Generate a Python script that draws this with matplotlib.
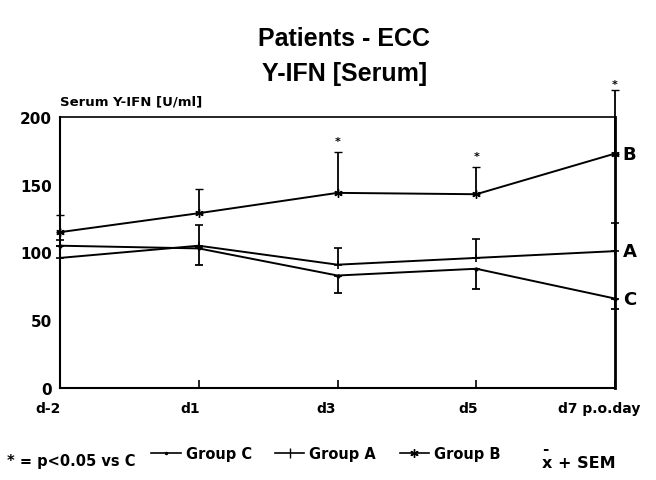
import matplotlib
matplotlib.use("Agg")
import matplotlib.pyplot as plt
import matplotlib.transforms as mtransforms
from matplotlib.lines import Line2D

plt.rcParams['font.family'] = ['DejaVu Sans']

days = ["d-2", "d1", "d3", "d5", "d7 p.o.day"]
x = [0, 1, 2, 3, 4]

group_b = [115, 129, 144, 143, 173]
group_b_sem = [13, 18, 30, 20, 47]
group_a = [96, 105, 91, 96, 101]
group_a_sem = [13, 15, 12, 14, 21]
group_c = [105, 103, 83, 88, 66]
group_c_sem = [0, 12, 13, 15, 8]

sig_x = [2, 3, 4]
sig_y = [182, 171, 224]

yticks = [0, 50, 100, 150, 200]

fig = plt.figure(figsize=(6.56, 4.81), dpi=100)
ax = fig.add_axes([0.0915, 0.1913, 0.846, 0.5634])

lw = 1.4
ax.errorbar(x, group_b, yerr=[[0]*5, group_b_sem], color='black', lw=lw,
            marker=(6, 2, 0), ms=6, mew=1.0, capsize=3, elinewidth=1.3, capthick=1.3,
            clip_on=False, zorder=3)
ax.errorbar(x, group_a, yerr=[[0]*5, group_a_sem], color='black', lw=lw,
            marker='|', ms=6, mew=1.2, capsize=3, elinewidth=1.3, capthick=1.3,
            clip_on=False, zorder=3)
ax.errorbar(x, group_c, yerr=[group_c_sem, [0]*5], color='black', lw=lw,
            marker='.', ms=4, capsize=3, elinewidth=1.3, capthick=1.3,
            clip_on=False, zorder=3)

for sx, sy in zip(sig_x, sig_y):
    ax.text(sx, sy, "*", ha='center', va='center', fontsize=8, fontweight='bold',
            clip_on=False)

ax.set_xlim(0, 4)
ax.set_ylim(0, 200)
ax.set_yticks(yticks)
ax.set_yticklabels([str(v) for v in yticks], fontsize=11, fontweight='bold')
ax.tick_params(axis='y', length=0, pad=6)
ax.set_xticks(x)
ax.set_xticklabels([])
ax.tick_params(axis='x', direction='in', length=6, width=1.2)

for s in ['left', 'bottom']:
    ax.spines[s].set_linewidth(1.5)
ax.spines['top'].set_linewidth(1.2)
ax.spines['right'].set_linewidth(2.0)

offsets = [-12, -9, -11, -8, -16]
trans_base = mtransforms.blended_transform_factory(ax.transData, ax.transAxes)
for xi, lab, off in zip(x, days, offsets):
    t = trans_base + mtransforms.ScaledTranslation(off / 100, -20 / 100, fig.dpi_scale_trans)
    ax.text(xi, 0, lab, transform=t, ha='center', va='center', fontsize=10,
            fontweight='bold', clip_on=False)

for lab, yv in zip(["B", "A", "C"], [group_b[-1], group_a[-1], group_c[-1]]):
    ax.text(1.014, yv, lab, transform=mtransforms.blended_transform_factory(ax.transAxes, ax.transData),
            ha='left', va='center', fontsize=13, fontweight='bold')

ax.text(0.0, 1.035, "Serum Y-IFN [U/ml]", transform=ax.transAxes, ha='left', va='bottom',
        fontsize=9.5, fontweight='bold')

fig.text(0.525, 0.918, "Patients - ECC", ha='center', va='center', fontsize=18,
         family='Liberation Sans', fontweight='bold')
fig.text(0.525, 0.846, "Y-IFN [Serum]", ha='center', va='center', fontsize=18,
         family='Liberation Sans', fontweight='bold')

handles = [
    Line2D([], [], color='black', lw=1.2, marker='.', ms=3),
    Line2D([], [], color='black', lw=1.2, marker='|', ms=7),
    Line2D([], [], color='black', lw=1.2, marker=(6, 2, 0), ms=6),
]
fig.legend(handles, ["Group C", "Group A", "Group B"], loc='center left',
           bbox_to_anchor=(0.222, 0.055), ncol=3, frameon=False,
           prop={'weight': 'bold', 'size': 10.5}, handlelength=2.0,
           handletextpad=0.35, columnspacing=1.6, borderaxespad=0)

fig.text(0.01, 0.04, "* = p<0.05 vs C", ha='left', va='center', fontsize=10.5, fontweight='bold')
fig.text(0.826, 0.066, "-", ha='left', va='center', fontsize=11, fontweight='bold')
fig.text(0.826, 0.037, "x + SEM", ha='left', va='center', fontsize=11.5, fontweight='bold')

fig.savefig("out.png", dpi=100)
